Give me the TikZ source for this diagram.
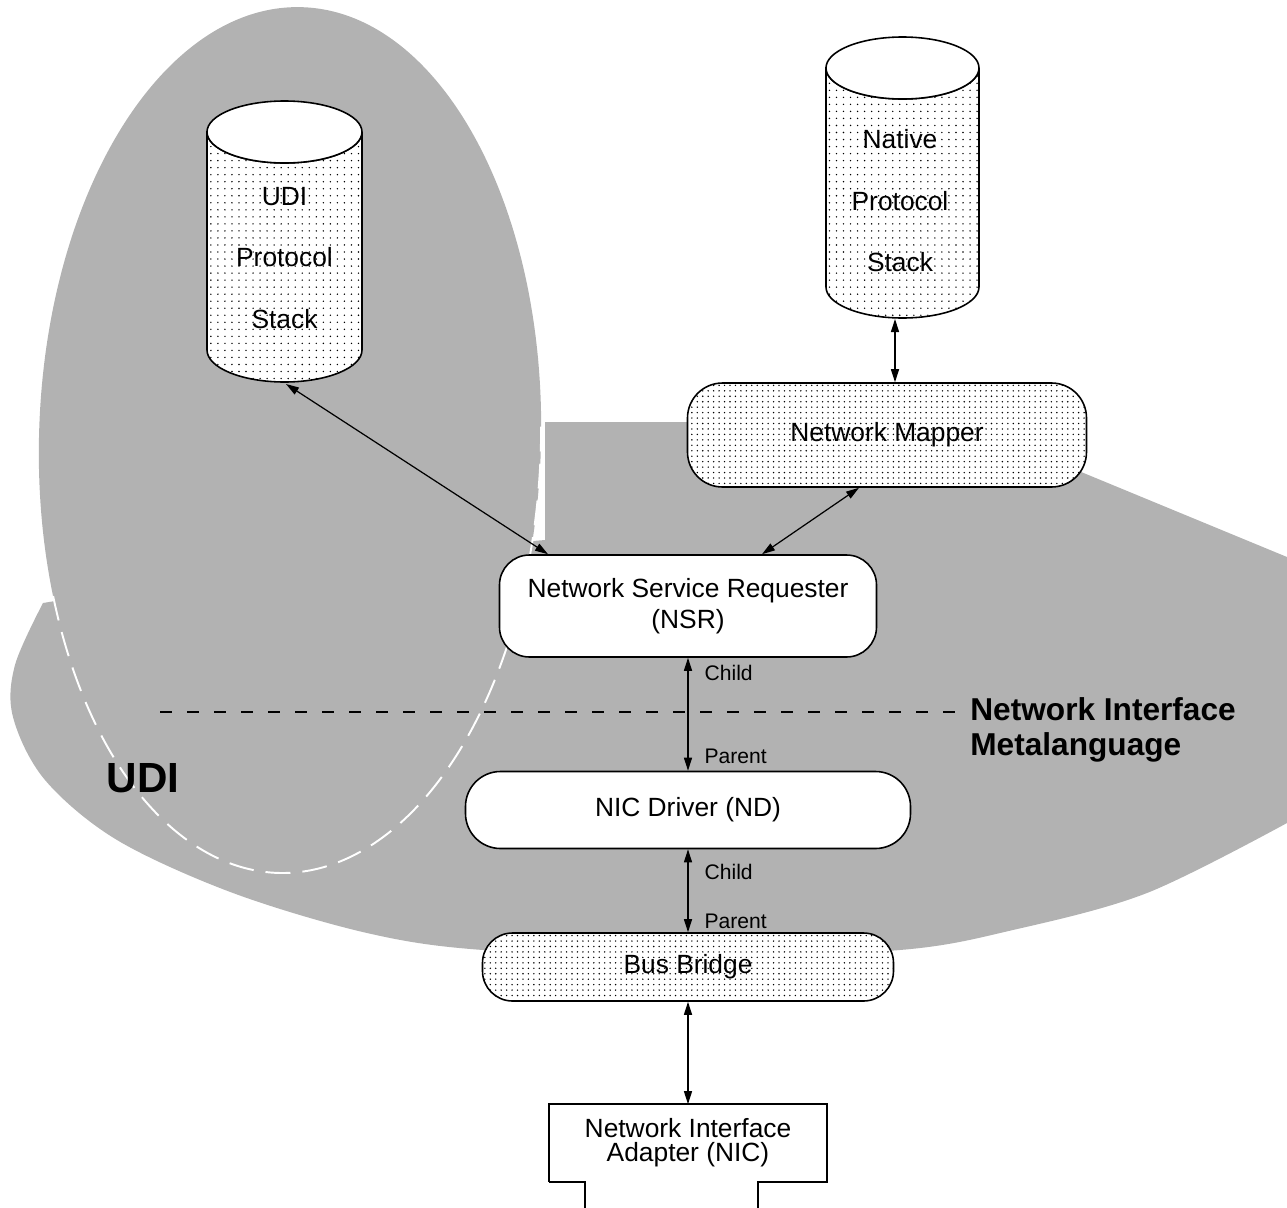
\documentclass[tikz,border=0pt]{standalone}
\usepackage{fontspec}
\setmainfont{Liberation Sans}
\usetikzlibrary{arrows.meta,calc,patterns}

\pgfdeclarepatternformonly{sparsedots}{\pgfqpoint{-1pt}{-1pt}}{\pgfqpoint{1pt}{1pt}}{\pgfqpoint{4pt}{4pt}}%
{\pgfpathcircle{\pgfpointorigin}{0.45pt}\pgfusepath{fill}}
\pgfdeclarepatternformonly{densedots}{\pgfqpoint{-1pt}{-1pt}}{\pgfqpoint{1pt}{1pt}}{\pgfqpoint{3.1pt}{3.1pt}}%
{\pgfpathcircle{\pgfpointorigin}{0.45pt}\pgfusepath{fill}}

\definecolor{udigray}{gray}{0.7}

\tikzset{
  region/.style={fill=udigray},
  box/.style={draw, line width=0.9pt, rounded corners=6mm, inner sep=0pt, align=center, font=\fontsize{15}{18}\selectfont},
  plainbox/.style={box, fill=white},
  dotbox/.style={box, preaction={fill=white}, pattern=densedots},
  stackbody/.style={line width=0.9pt, preaction={fill=white}, pattern=sparsedots},
  stacktext/.style={align=center, inner sep=0pt, font=\fontsize{15}{35}\selectfont},
  link/.style={{Triangle[length=2.6mm,width=1.6mm]}-{Triangle[length=2.6mm,width=1.6mm]}, line width=0.7pt},
  rel/.style={anchor=west, inner sep=0pt, xshift=3.2mm, font=\fontsize{12}{14}\selectfont},
}

\begin{document}
\begin{tikzpicture}[x=0.2mm, y=-0.2mm]
  \useasboundingbox (0,0) rectangle (1287,1208);

  % shaded areas
  \fill[region] (545,422) -- (1000,422) -- (1040,455) -- (1287,557) -- (1287,823)
    -- plot[smooth, tension=0.55] coordinates {(1287,823) (1147,893) (1013,930) (900,950) (690,957)
       (483,950) (367,933) (233,893) (117,840) (45,780) (13,717) (15,665) (43,603)}
    -- (300,560) -- (545,540) -- cycle;
  \begin{scope}[rotate around={-1.5:(290,440)}]
    \fill[region] (290,440) ellipse [x radius=251, y radius=433];
    \draw[white, line width=1.1pt, dash pattern=on 5mm off 2.4mm]
      (290,440) ++(158:251 and 433) arc[start angle=158, end angle=-3, x radius=251, y radius=433];
  \end{scope}
  \draw[line width=0.7pt, dash pattern=on 2.4mm off 3mm] (160,712) -- (955,712);

  % UDI protocol stack
  \draw[stackbody] (207,132) -- (207,350) arc[start angle=180, end angle=0, x radius=77.5, y radius=32]
    -- (362,132) arc[start angle=0, end angle=180, x radius=77.5, y radius=31] -- cycle;
  \draw[line width=0.9pt, fill=white] (284.5,132) ellipse [x radius=77.5, y radius=31];
  \node[stacktext] (udi) at (284.5,258) {UDI\\Protocol\\Stack};
  \coordinate (udi-base) at (286,384);

  % native protocol stack
  \draw[stackbody] (826,68) -- (826,287) arc[start angle=180, end angle=0, x radius=76.5, y radius=31]
    -- (979,68) arc[start angle=0, end angle=180, x radius=76.5, y radius=31] -- cycle;
  \draw[line width=0.9pt, fill=white] (902.5,68) ellipse [x radius=76.5, y radius=31];
  \node[stacktext] (native) at (900,201) {Native\\Protocol\\Stack};
  \coordinate (native-base) at (895,319);

  \node[dotbox, rounded corners=7mm, minimum width=79.8mm, minimum height=20.8mm] (mapper) at (887,435) {Network Mapper};
  \node[plainbox, minimum width=75.4mm, minimum height=20.4mm] (nsr) at (688,606) {Network Service Requester\\(NSR)};
  \node[plainbox, rounded corners=7mm, minimum width=89mm, minimum height=15.4mm] (nd) at (688,810) {NIC Driver (ND)};
  \node[dotbox, minimum width=82.2mm, minimum height=13.6mm] (bb) at (688,967) {Bus Bridge};
  \node[align=center, inner sep=0pt, minimum width=55.4mm, minimum height=15.4mm,
        font=\fontsize{15}{13.5}\selectfont] (nic) at (688,1143) {Network Interface\\Adapter (NIC)};
  \draw[line width=0.9pt] (nic.south west) -- (nic.north west) -- (nic.north east) -- (nic.south east)
    -- ++(-69,0) -- ++(0,30);
  \draw[line width=0.9pt] (nic.south west) -- ++(36,0) -- ++(0,30);

  \draw[link] (udi-base) -- ($(nsr.north)+(-140,0)$);
  \draw[link] (native-base) -- (native-base |- mapper.north);
  \draw[link] ($(mapper.south)+(-28,0)$) -- ($(nsr.north)+(74,0)$);
  \draw[link] (nsr.south) -- (nd.north) node[rel, pos=0.13] {Child} node[rel, pos=0.87] {Parent};
  \draw[link] (nd.south) -- (bb.north) node[rel, pos=0.27] {Child} node[rel, pos=0.87] {Parent};
  \draw[link] (bb.south) -- (nic.north);

  \node[anchor=west, align=left, inner sep=0pt, font=\bfseries\fontsize{18}{20}\selectfont] (nim) at (970,730) {Network Interface\\Metalanguage};
  \node[inner sep=0pt, font=\bfseries\fontsize{24}{28}\selectfont] (udilabel) at (143,778) {UDI};
\end{tikzpicture}
\end{document}
